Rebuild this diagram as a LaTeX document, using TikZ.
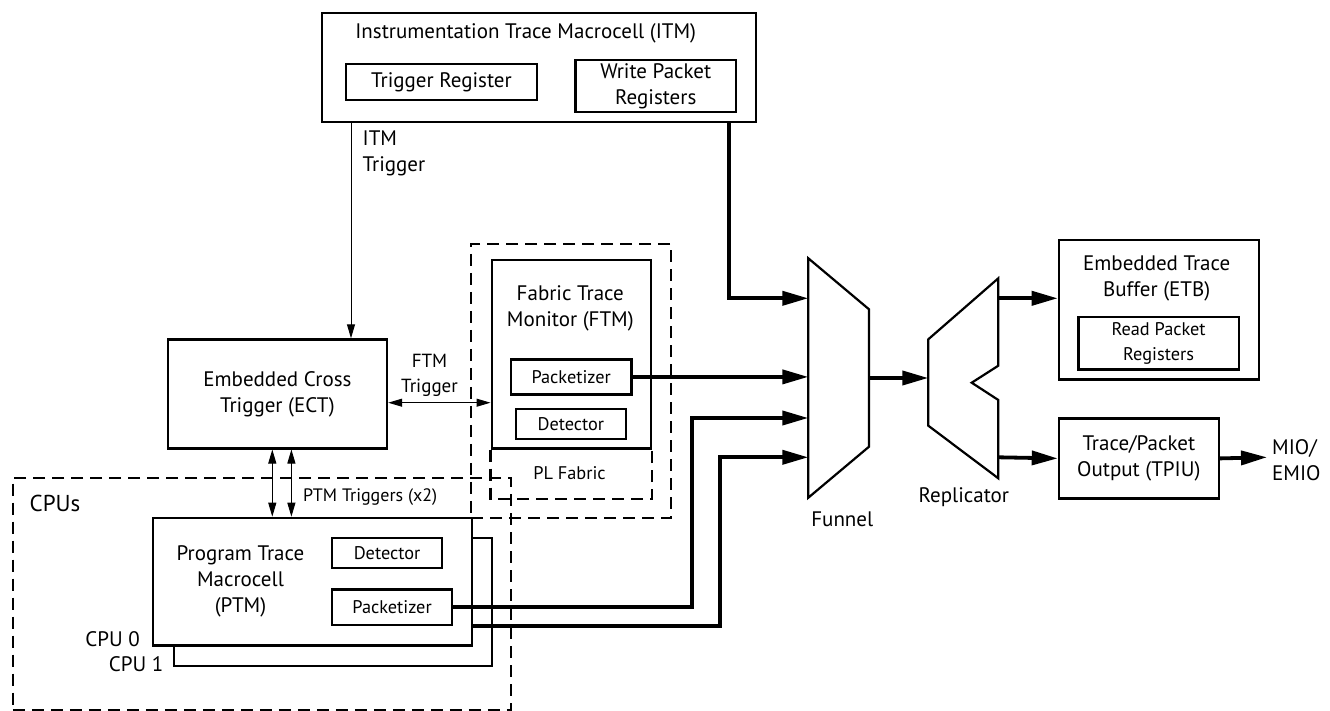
\documentclass[tikz,border=0pt]{standalone}
\usepackage{fontspec}
\setmainfont{PT Sans}
\usetikzlibrary{arrows.meta}
\begin{document}
\begin{tikzpicture}[x=1pt,y=-1pt,
  mainf/.style={font=\fontsize{21}{26}\selectfont},
  smallf/.style={font=\fontsize{18.3}{25}\selectfont},
  box/.style={draw, line width=2.2pt, inner sep=0pt, anchor=north west, align=center, mainf},
  sbox/.style={box, smallf},
  dbox/.style={draw, line width=2.2pt, dash pattern=on 12pt off 7pt, inner sep=0pt, anchor=north west},
  lbl/.style={inner sep=0pt, align=center, mainf},
  slbl/.style={inner sep=0pt, align=center, smallf},
  thickarr/.style={line width=3.8pt, -{Triangle[length=26pt,width=14pt]}},
  thinarr/.style={line width=1pt, -{Triangle[length=14pt,width=8pt]}},
  thinbi/.style={line width=1pt, {Triangle[length=14pt,width=8pt]}-{Triangle[length=14pt,width=8pt]}},
  outline/.style={draw, line width=2.2pt, line join=miter}
]
\useasboundingbox (0,0) rectangle (1330,711);

% ---------- ITM ----------
\node[box, minimum width=434.3pt, minimum height=109pt] (itm) at (320.7,11.7) {};
\node[lbl] (itmtitle) at (525.7,33) {Instrumentation Trace Macrocell (ITM)};
\node[box, minimum width=190.7pt, minimum height=35.7pt] (trigreg) at (345,63.3) {Trigger Register};
\node[box, minimum width=160.7pt, minimum height=52pt] (wpr) at (574.3,58.7) {Write Packet\\Registers};
\node[lbl, anchor=west, align=left] (itmtrig) at (362.5,153.3) {ITM\\Trigger};

% ---------- ECT ----------
\node[box, minimum width=219.3pt, minimum height=109pt] (ect) at (166.7,338.3) {Embedded Cross\\Trigger (ECT)};

% ---------- FTM ----------
\node[dbox, minimum width=200pt, minimum height=274pt] (ftmouter) at (470,242.7) {};
\node[box, minimum width=159.5pt, minimum height=188pt] (ftm) at (490.5,259.3) {};
\draw[line width=2.2pt, dash pattern=on 12pt off 7pt] (ftm.south west) -- ++(0,49.4) -| (ftm.south east);
\node[lbl] (ftmtitle) at (570.3,308.2) {Fabric Trace\\Monitor (FTM)};
\node[sbox, minimum width=120.5pt, minimum height=35pt] (ftmpkt) at (509.8,358.3) {Packetizer};
\node[sbox, minimum width=110.5pt, minimum height=29.3pt] (ftmdet) at (514.5,408.2) {Detector};
\node[slbl] (plfab) at (569.5,473.3) {PL Fabric};
\node[lbl, font=\fontsize{19}{25}\selectfont] (ftmtrig) at (429.5,375.8) {FTM\\Trigger};

% ---------- CPUs ----------
\node[dbox, minimum width=498.4pt, minimum height=232.5pt] (cpus) at (11.7,476.7) {};
\node[lbl, anchor=west, font=\fontsize{23}{26}\selectfont] (cpuslbl) at (29.5,503) {CPUs};
\node[box, minimum width=318pt, minimum height=128.3pt] (cpu1) at (172.7,536.7) {};
\node[box, fill=white, minimum width=319pt, minimum height=127.6pt] (ptm) at (151.7,516.7) {};
\node[lbl] (ptmtitle) at (240.5,581.5) {Program Trace\\Macrocell\\(PTM)};
\node[sbox, minimum width=110pt, minimum height=30pt] (ptmdet) at (331,536.7) {Detector};
\node[sbox, minimum width=120pt, minimum height=35.5pt] (ptmpkt) at (331,588.3) {Packetizer};
\node[lbl, anchor=east] (cpu0lbl) at (140,639.3) {CPU 0};
\node[lbl, anchor=east] (cpu1lbl) at (163.5,664) {CPU 1};
\node[lbl, anchor=west, font=\fontsize{18}{25}\selectfont] (ptmtrig) at (303,496.7) {PTM Triggers (x2)};

% ---------- Funnel & Replicator ----------
\draw[outline] (808.3,258.3) -- (869,309.3) -- (869,446.7) -- (808.3,497.7) -- cycle;
\draw[outline] (928.3,339.3) -- (998.3,278.3) -- (998.3,365.7) -- (971.7,382.7) -- (998.3,400) -- (998.3,478.3) -- (928.3,425.7) -- cycle;
\node[lbl] (funlbl) at (842.3,519) {Funnel};
\node[lbl] (replbl) at (963.8,496.7) {Replicator};
\coordinate (fl) at (808.3,0);
\coordinate (fout) at (869,378);
\coordinate (rin) at (928.3,378);
\coordinate (rout1) at (998.3,298.3);
\coordinate (rout2) at (998.3,457.3);

% ---------- ETB / TPIU ----------
\node[box, minimum width=200pt, minimum height=139pt] (etb) at (1057.7,239.3) {};
\node[lbl] (etbtitle) at (1156.7,278.7) {Embedded Trace\\Buffer (ETB)};
\node[sbox, minimum width=160.4pt, minimum height=52.3pt] (rpr) at (1077.3,316) {Read Packet\\Registers};
\node[box, minimum width=160pt, minimum height=80pt] (tpiu) at (1057.7,417.3) {Trace/Packet\\Output (TPIU)};
\node[lbl, anchor=west, align=left] (mio) at (1272,460.3) {MIO/\\EMIO};
\coordinate (mioin) at (1267,457.3);

% ---------- connectors ----------
\coordinate (itx) at (351,0);
\coordinate (wpx) at (729.3,0);
\coordinate (fty) at (0,402.7);
\coordinate (p1) at (272.3,0);
\coordinate (p2) at (291.4,0);
\coordinate (c3) at (692,418);
\coordinate (c4) at (720,457.3);
\coordinate (cy) at (0,626);

\draw[thinarr] (itm.south -| itx) -- (ect.north -| itx);
\draw[thinbi] (ect.east |- fty) -- (ftm.west |- fty);
\draw[thinbi] (ect.south -| p1) -- (ptm.north -| p1);
\draw[thinbi] (ect.south -| p2) -- (ptm.north -| p2);

\draw[thickarr] (itm.south -| wpx) |- (rout1 -| fl);
\draw[thickarr] (ftmpkt.east) -- (ftmpkt.east -| fl);
\draw[thickarr] (ptmpkt.east) -| (c3) -- (c3 -| fl);
\draw[thickarr] (ptm.east |- cy) -| (c4) -- (c4 -| fl);
\draw[thickarr] (fout) -- (rin);
\draw[thickarr] (rout1) -- (rout1 -| etb.west);
\draw[thickarr] (rout2) -- (tpiu.west);
\draw[thickarr] (tpiu.east) -- (mioin);
\end{tikzpicture}
\end{document}
